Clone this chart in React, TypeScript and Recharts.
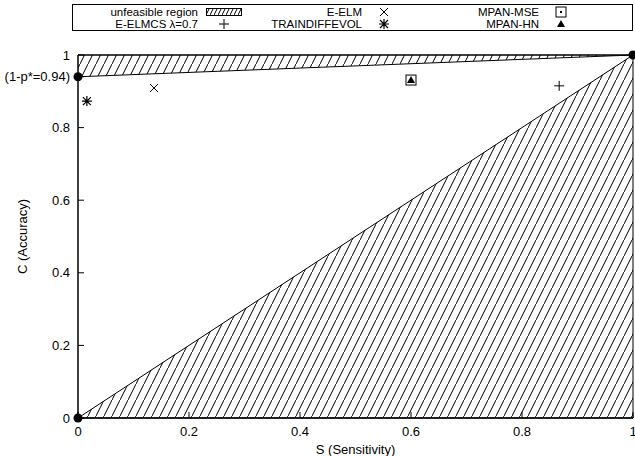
import React from 'react';
import { ComposedChart, Area, Scatter, XAxis, YAxis, ReferenceArea } from 'recharts';

const xTicks = [0, 0.2, 0.4, 0.6, 0.8, 1];
const yTicks = [0, 0.2, 0.4, 0.6, 0.8, 0.94, 1];
const pStarAccuracy = 0.94;

// unfeasible regions as [low, high] bands of C along S
const sValues = [0, 1];
const upperLow = [0.94, 1];
const upperHigh = [1, 1];
const lowerLow = [0, 0];
const lowerHigh = [0, 1];

const cornerPoints = [
  { s: 0, c: 0 },
  { s: 0, c: 0.94 },
  { s: 1, c: 1 },
];

const eelmcs = [{ s: 0.867, c: 0.915 }];
const eelm = [{ s: 0.137, c: 0.909 }];
const traindiffevol = [{ s: 0.016, c: 0.873 }];
const mpanMse = [{ s: 0.6, c: 0.931 }];
const mpanHn = [{ s: 0.6, c: 0.931 }];

const regionData = sValues.map((s, i) => ({
  s,
  upper: [upperLow[i], upperHigh[i]],
  lower: [lowerLow[i], lowerHigh[i]],
}));

const font = '"Liberation Sans", Arial, sans-serif';

const Plus = ({ cx, cy }: any) => (
  <path d={`M${cx - 5},${cy}H${cx + 5}M${cx},${cy - 5}V${cy + 5}`} stroke="#000" strokeWidth={1} fill="none" />
);
const Cross = ({ cx, cy }: any) => (
  <path d={`M${cx - 4},${cy - 4}L${cx + 4},${cy + 4}M${cx - 4},${cy + 4}L${cx + 4},${cy - 4}`} stroke="#000" strokeWidth={1} fill="none" />
);
const Star = ({ cx, cy }: any) => (
  <path
    d={`M${cx - 5},${cy}H${cx + 5}M${cx},${cy - 5}V${cy + 5}M${cx - 4},${cy - 4}L${cx + 4},${cy + 4}M${cx - 4},${cy + 4}L${cx + 4},${cy - 4}`}
    stroke="#000"
    strokeWidth={1.2}
    fill="none"
  />
);
const BoxDot = ({ cx, cy }: any) => (
  <g>
    <rect x={cx - 5} y={cy - 5} width={10} height={10} fill="none" stroke="#000" strokeWidth={1} />
    <rect x={cx - 1} y={cy - 1} width={2} height={2} fill="#000" />
  </g>
);
const Tri = ({ cx, cy }: any) => (
  <path d={`M${cx},${cy - 4}L${cx - 4},${cy + 3}L${cx + 4},${cy + 3}Z`} fill="#000" />
);
const Dot = ({ cx, cy }: any) => <circle cx={cx} cy={cy} r={4.5} fill="#000" />;

const yLabel = (v: number) => (v === pStarAccuracy ? `(1-p*=${v})` : `${v}`);

const YTick = ({ x, y, payload }: any) => (
  <g>
    <line x1={x + 8} x2={x + 14} y1={y} y2={y} stroke="#000" />
    <text x={x} y={y} dy={4.5} textAnchor="end" fontSize={13} fontFamily={font} fill="#000">
      {yLabel(payload.value)}
    </text>
  </g>
);

const XTick = ({ x, y, payload }: any) => (
  <g>
    <line x1={x} x2={x} y1={y - 8} y2={y - 14} stroke="#000" />
    <text x={x} y={y} dy={10} textAnchor="middle" fontSize={13} fontFamily={font} fill="#000">
      {payload.value}
    </text>
  </g>
);

const HatchSample = () => (
  <svg width={36} height={8} style={{ display: 'block' }}>
    <rect x={0.5} y={0.5} width={35} height={7} fill="url(#hatchLegend)" stroke="#000" />
    <defs>
      <pattern id="hatchLegend" patternUnits="userSpaceOnUse" width={4} height={8}>
        <path d="M-1,9L5,-3" stroke="#000" strokeWidth={1} />
      </pattern>
    </defs>
  </svg>
);

const sym = (S: any) => () => (
  <svg width={14} height={14} style={{ display: 'block' }}>
    <S cx={7} cy={7} />
  </svg>
);

const legendItems = [
  { name: 'unfeasible region', Icon: HatchSample, col: 0, row: 0 },
  { name: 'E-ELMCS \u03bb=0.7', Icon: sym(Plus), col: 0, row: 1 },
  { name: 'E-ELM', Icon: sym(Cross), col: 1, row: 0 },
  { name: 'TRAINDIFFEVOL', Icon: sym(Star), col: 1, row: 1 },
  { name: 'MPAN-MSE', Icon: sym(BoxDot), col: 2, row: 0 },
  { name: 'MPAN-HN', Icon: sym(Tri), col: 2, row: 1 },
];

const textEnds = [127, 291, 468];
const iconCenters = [151, 311, 488];
const rowCenters = [6.5, 19];

const ChartLegend = () => (
  <div
    style={{
      position: 'absolute',
      left: 72,
      top: 4,
      width: 561,
      height: 27,
      border: '1px solid #000',
      boxSizing: 'border-box',
      fontFamily: font,
      fontSize: 11.5,
    }}
  >
    {legendItems.map((it) => (
      <React.Fragment key={it.name}>
        <div
          style={{
            position: 'absolute',
            right: 561 - textEnds[it.col],
            top: rowCenters[it.row] - 6,
            lineHeight: '12px',
            whiteSpace: 'nowrap',
          }}
        >
          {it.name}
        </div>
        <div
          style={{
            position: 'absolute',
            left: iconCenters[it.col] - (it.col === 0 && it.row === 0 ? 18 : 7),
            top: rowCenters[it.row] - (it.col === 0 && it.row === 0 ? 4 : 7),
          }}
        >
          <it.Icon />
        </div>
      </React.Fragment>
    ))}
  </div>
);

export default function App() {
  return (
    <div style={{ position: 'absolute', left: 0, top: 0, width: 635, height: 456, background: '#fff' }}>
      <ComposedChart
        width={635}
        height={456}
        data={regionData}
        margin={{ top: 55, right: 2, bottom: 0, left: 0 }}
        style={{ fontFamily: font }}
      >
        <defs>
          <pattern id="hatch" patternUnits="userSpaceOnUse" width={8} height={16}>
            <path d="M-2,20L10,-4" stroke="#000" strokeWidth={1} />
          </pattern>
        </defs>
        <XAxis
          dataKey="s"
          type="number"
          domain={[0, 1]}
          ticks={xTicks}
          interval={0}
          height={38}
          tickSize={0}
          tickMargin={8}
          tick={<XTick />}
          axisLine={{ stroke: '#000' }}
          label={{ value: 'S (Sensitivity)', position: 'insideBottom', offset: 2, fontSize: 13, fill: '#000' }}
        />
        <YAxis
          dataKey="c"
          type="number"
          domain={[0, 1]}
          ticks={yTicks}
          interval={0}
          width={78}
          tickSize={0}
          tickMargin={8}
          tick={<YTick />}
          axisLine={{ stroke: '#000' }}
          label={{
            value: 'C (Accuracy)',
            angle: -90,
            position: 'insideLeft',
            offset: 22,
            fontSize: 13,
            fill: '#000',
            style: { textAnchor: 'middle' },
          }}
        />
        <Area
          dataKey="upper"
          type="linear"
          fill="url(#hatch)"
          fillOpacity={1}
          stroke="#000"
          strokeWidth={1}
          dot={false}
          activeDot={false}
          isAnimationActive={false}
        />
        <Area
          dataKey="lower"
          type="linear"
          fill="url(#hatch)"
          fillOpacity={1}
          stroke="#000"
          strokeWidth={1}
          dot={false}
          activeDot={false}
          isAnimationActive={false}
        />
        <ReferenceArea x1={0} x2={1} y1={0} y2={1} fill="none" stroke="#000" strokeWidth={1} />
        <Scatter data={eelmcs} shape={<Plus />} isAnimationActive={false} />
        <Scatter data={eelm} shape={<Cross />} isAnimationActive={false} />
        <Scatter data={traindiffevol} shape={<Star />} isAnimationActive={false} />
        <Scatter data={mpanMse} shape={<BoxDot />} isAnimationActive={false} />
        <Scatter data={mpanHn} shape={<Tri />} isAnimationActive={false} />
        <Scatter data={cornerPoints} shape={<Dot />} isAnimationActive={false} />
      </ComposedChart>
      <ChartLegend />
    </div>
  );
}
